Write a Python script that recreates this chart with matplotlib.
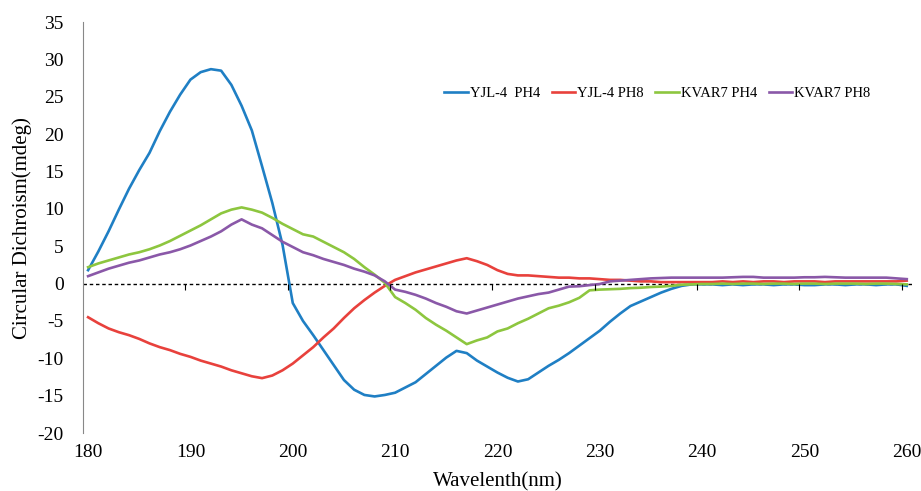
import matplotlib.pyplot as plt
import numpy as np

wavelength = np.arange(180, 261)

yjl4_ph4 = [1.8, 4.3, 7.0, 9.9, 12.7, 15.2, 17.5, 20.4, 23.0, 25.3,
            27.3, 28.3, 28.7, 28.5, 26.6, 23.8, 20.5, 15.7, 10.8, 5.2,
            -2.6, -5.0, -6.9, -8.9, -10.9, -12.9, -14.2, -14.9, -15.1, -14.9,
            -14.6, -13.9, -13.2, -12.1, -11.0, -9.9, -9.0, -9.3, -10.3, -11.1,
            -11.9, -12.6, -13.1, -12.8, -11.9, -11.0, -10.2, -9.3, -8.3, -7.3,
            -6.3, -5.1, -4.0, -3.0, -2.4, -1.8, -1.2, -0.7, -0.3, -0.1,
            -0.1, -0.1, -0.2, -0.1, -0.2, -0.1, -0.1, -0.2, -0.1, -0.1,
            -0.2, -0.2, -0.1, -0.1, -0.2, -0.1, -0.1, -0.2, -0.1, -0.1, -0.3]

yjl4_ph8 = [-4.5, -5.3, -6.0, -6.5, -6.9, -7.4, -8.0, -8.5, -8.9, -9.4,
            -9.8, -10.3, -10.7, -11.1, -11.6, -12.0, -12.4, -12.65, -12.3, -11.6,
            -10.7, -9.6, -8.5, -7.2, -6.0, -4.6, -3.3, -2.2, -1.2, -0.3,
            0.5, 1.0, 1.5, 1.9, 2.3, 2.7, 3.1, 3.4, 3.0, 2.5,
            1.8, 1.3, 1.1, 1.1, 1.0, 0.9, 0.8, 0.8, 0.7, 0.7,
            0.6, 0.5, 0.5, 0.4, 0.3, 0.3, 0.2, 0.2, 0.2, 0.2,
            0.2, 0.2, 0.3, 0.2, 0.3, 0.2, 0.3, 0.3, 0.2, 0.3,
            0.3, 0.3, 0.2, 0.3, 0.3, 0.3, 0.3, 0.3, 0.3, 0.3, 0.4]

kvar7_ph4 = [2.2, 2.7, 3.1, 3.5, 3.9, 4.2, 4.6, 5.1, 5.7, 6.4,
             7.1, 7.8, 8.6, 9.4, 9.9, 10.2, 9.9, 9.5, 8.8, 8.0,
             7.3, 6.6, 6.3, 5.6, 4.9, 4.2, 3.3, 2.2, 1.2, 0.1,
             -1.8, -2.6, -3.5, -4.6, -5.5, -6.3, -7.2, -8.1, -7.6, -7.2,
             -6.4, -6.0, -5.3, -4.7, -4.0, -3.3, -2.95, -2.5, -1.9, -0.9,
             -0.8, -0.75, -0.7, -0.6, -0.55, -0.45, -0.4, -0.3, -0.15, -0.1,
             -0.05, -0.05, 0.0, -0.05, 0.0, 0.0, -0.05, 0.0, 0.0, -0.05,
             0.0, 0.0, -0.05, 0.0, 0.0, 0.0, -0.05, 0.0, 0.0, -0.05, -0.1]

kvar7_ph8 = [1.0, 1.5, 2.0, 2.4, 2.8, 3.1, 3.5, 3.9, 4.2, 4.6,
             5.1, 5.7, 6.3, 7.0, 7.9, 8.6, 7.9, 7.4, 6.5, 5.6,
             4.9, 4.2, 3.8, 3.3, 2.9, 2.5, 2.0, 1.6, 1.1, 0.3,
             -0.8, -1.1, -1.5, -2.0, -2.6, -3.1, -3.7, -4.0, -3.6, -3.2,
             -2.8, -2.4, -2.0, -1.7, -1.4, -1.2, -0.8, -0.4, -0.35, -0.2,
             -0.05, 0.3, 0.4, 0.5, 0.6, 0.7, 0.75, 0.8, 0.8, 0.8,
             0.8, 0.8, 0.8, 0.85, 0.9, 0.9, 0.8, 0.8, 0.8, 0.8,
             0.85, 0.85, 0.9, 0.85, 0.8, 0.8, 0.8, 0.8, 0.8, 0.7, 0.6]

series = [("YJL-4  PH4", yjl4_ph4, "#1f7fc4"),
          ("YJL-4 PH8", yjl4_ph8, "#e8413c"),
          ("KVAR7 PH4", kvar7_ph4, "#8dc63f"),
          ("KVAR7 PH8", kvar7_ph8, "#8a58a8")]

plt.rcParams['font.family'] = ['Liberation Serif', 'DejaVu Serif']
plt.rcParams['axes.unicode_minus'] = False

fig = plt.figure(figsize=(9.21, 4.91), dpi=100)
ax = fig.add_axes([0.0901, 0.118, 0.900, 0.837])

for name, vals, col in series:
    ax.plot(wavelength, vals, color=col, lw=1.9, label=name)

# horizontal axis at zero, dashed, with tick marks between categories
ax.axhline(0, color="black", lw=1.0, ls=(0, (2.5, 2)), zorder=1)
ax.plot(np.arange(189.5, 260, 10), np.zeros(8), ls="none", marker=3,
        color="black", ms=4, mew=0.8)

ax.set_xlim(179.5, 260.5)
ax.set_ylim(-20, 35)
ax.set_xticks(np.arange(180, 261, 10))
ax.set_yticks(np.arange(-20, 36, 5))
ax.tick_params(axis="both", length=0, labelsize=14, pad=8)
ax.tick_params(axis="y", pad=14)

for s in ["top", "right", "bottom"]:
    ax.spines[s].set_visible(False)
ax.spines["left"].set_color("#888888")

ax.set_xlabel("Wavelenth(nm)", fontsize=15, labelpad=8)
ax.set_ylabel("Circular Dichroism(mdeg)", fontsize=15, labelpad=4)

ax.legend(loc="upper left", bbox_to_anchor=(0.42, 0.875), ncol=4, frameon=False,
          fontsize=10.5, handlelength=1.6, handletextpad=0.15, columnspacing=0.8)

plt.savefig("out.png", dpi=100)
